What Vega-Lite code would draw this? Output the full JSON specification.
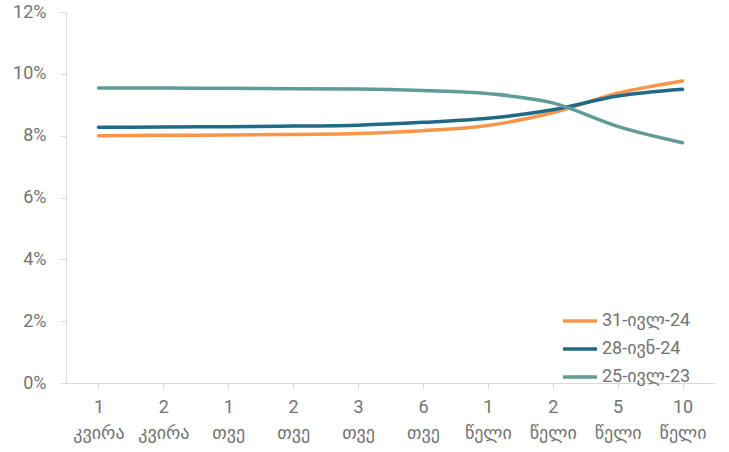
{
  "$schema": "https://vega.github.io/schema/vega-lite/v6.json",
  "autosize": {"type": "none"},
  "width": 649,
  "height": 371,
  "padding": {"left": 66, "top": 12, "right": 14, "bottom": 69},
  "background": "white",
  "config": {
    "font": "Roboto, DejaVu Sans",
    "view": {"stroke": null},
    "axis": {"labelFont": "Roboto, DejaVu Sans", "labelColor": "#737373", "labelFontSize": 18, "domainColor": "#d9d9d9", "tickColor": "#d9d9d9", "grid": false}
  },
  "data": {
    "values": [
      {"t": "1|კვირა", "s": "31-ივლ-24", "v": 8.0},
      {"t": "2|კვირა", "s": "31-ივლ-24", "v": 8.01},
      {"t": "1|თვე", "s": "31-ივლ-24", "v": 8.02},
      {"t": "2|თვე", "s": "31-ივლ-24", "v": 8.04},
      {"t": "3|თვე", "s": "31-ივლ-24", "v": 8.07},
      {"t": "6|თვე", "s": "31-ივლ-24", "v": 8.16},
      {"t": "1|წელი", "s": "31-ივლ-24", "v": 8.33},
      {"t": "2|წელი", "s": "31-ივლ-24", "v": 8.74},
      {"t": "5|წელი", "s": "31-ივლ-24", "v": 9.37},
      {"t": "10|წელი", "s": "31-ივლ-24", "v": 9.77},
      {"t": "1|კვირა", "s": "28-ივნ-24", "v": 8.27},
      {"t": "2|კვირა", "s": "28-ივნ-24", "v": 8.28},
      {"t": "1|თვე", "s": "28-ივნ-24", "v": 8.29},
      {"t": "2|თვე", "s": "28-ივნ-24", "v": 8.31},
      {"t": "3|თვე", "s": "28-ივნ-24", "v": 8.34},
      {"t": "6|თვე", "s": "28-ივნ-24", "v": 8.43},
      {"t": "1|წელი", "s": "28-ივნ-24", "v": 8.56},
      {"t": "2|წელი", "s": "28-ივნ-24", "v": 8.84},
      {"t": "5|წელი", "s": "28-ივნ-24", "v": 9.28},
      {"t": "10|წელი", "s": "28-ივნ-24", "v": 9.5},
      {"t": "1|კვირა", "s": "25-ივლ-23", "v": 9.54},
      {"t": "2|კვირა", "s": "25-ივლ-23", "v": 9.54},
      {"t": "1|თვე", "s": "25-ივლ-23", "v": 9.53},
      {"t": "2|თვე", "s": "25-ივლ-23", "v": 9.52},
      {"t": "3|თვე", "s": "25-ივლ-23", "v": 9.51},
      {"t": "6|თვე", "s": "25-ივლ-23", "v": 9.46},
      {"t": "1|წელი", "s": "25-ივლ-23", "v": 9.36},
      {"t": "2|წელი", "s": "25-ივლ-23", "v": 9.06},
      {"t": "5|წელი", "s": "25-ივლ-23", "v": 8.3},
      {"t": "10|წელი", "s": "25-ივლ-23", "v": 7.77}
    ]
  },
  "mark": {"type": "line", "interpolate": "monotone", "strokeWidth": 3.5, "strokeCap": "round"},
  "encoding": {
    "x": {
      "field": "t", "type": "nominal", "sort": null, "title": null,
      "scale": {"type": "point", "padding": 0.5},
      "axis": {"labelAngle": 0, "labelExpr": "split(datum.label, '|')", "labelLineHeight": 26, "tickBand": "extent", "tickSize": 6, "labelPadding": 9, "labelBaseline": "top"}
    },
    "y": {
      "field": "v", "type": "quantitative", "title": null,
      "scale": {"domain": [0, 12], "nice": false},
      "axis": {"values": [0, 2, 4, 6, 8, 10, 12], "labelExpr": "datum.value + '%'", "tickSize": 6, "labelPadding": 14}
    },
    "color": {
      "field": "s", "type": "nominal", "sort": ["31-ივლ-24", "28-ივნ-24", "25-ივლ-23"],
      "scale": {"domain": ["31-ივლ-24", "28-ივნ-24", "25-ივლ-23"], "range": ["#F7964A", "#216A87", "#5F9B97"]},
      "legend": {"title": null, "orient": "none", "legendX": 495, "legendY": 290, "symbolType": "stroke", "symbolSize": 1156, "symbolStrokeWidth": 3.5, "labelFontSize": 18, "labelColor": "#737373", "labelFont": "Roboto, DejaVu Sans", "rowPadding": -9.5, "labelOffset": 3}
    }
  }
}
